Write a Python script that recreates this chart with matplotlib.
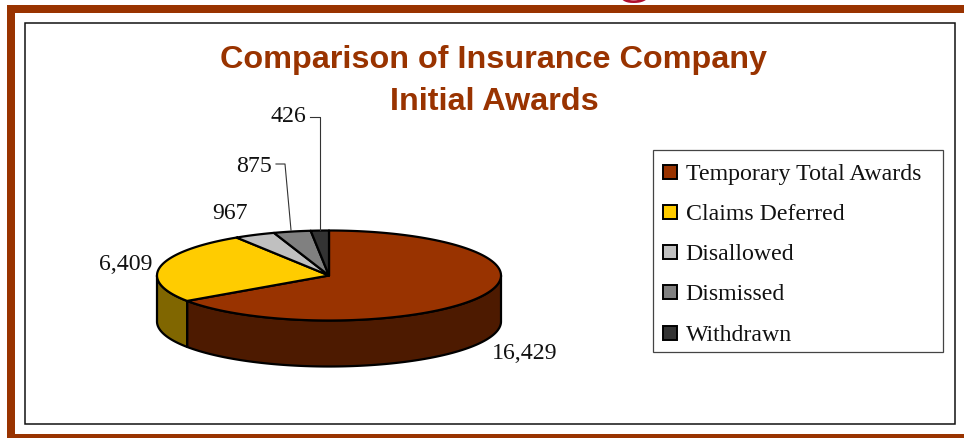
import numpy as np
import matplotlib
matplotlib.use("Agg")
import matplotlib.pyplot as plt
from matplotlib.patches import Rectangle

categories = ["Temporary Total Awards", "Claims Deferred", "Disallowed", "Dismissed", "Withdrawn"]
values = [16429, 6409, 967, 875, 426]
value_labels = ["16,429", "6,409", "967", "875", "426"]
top_colors = ["#993300", "#FFCC00", "#C0C0C0", "#808080", "#333333"]
side_colors = ["#4D1A00", "#806600", "#606060", "#404040", "#1A1A1A"]
title_lines = ["Comparison of Insurance Company", "Initial Awards"]

W, H = 964, 439
BROWN = "#993300"
SERIF = "Liberation Serif"
CX, CY, RX, RY, DEPTH = 329, 276.5, 172, 45, 46

fig = plt.figure(figsize=(W / 100, H / 100), dpi=100, facecolor="white")
ax = fig.add_axes([0, 0, 1, 1])
ax.set_xlim(0, W)
ax.set_ylim(H, 0)
ax.axis("off")

# Slide frame
ax.add_patch(Rectangle((7, 6), W - 7, 7.5, fc=BROWN, ec="none", zorder=1))
ax.add_patch(Rectangle((7, 6), 7.5, H - 6, fc=BROWN, ec="none", zorder=1))
ax.add_patch(Rectangle((7, 435.5), W - 7, 4, fc=BROWN, ec="none", zorder=1))
ax.add_patch(Rectangle((24.5, 24), 930.5, 401, fc="white", ec="#111111", lw=1.1, zorder=1))
# Descender of the slide heading cut off by the top of the crop
ax.text(634, -11, "g", family=SERIF, fontsize=48, color="#B0102E",
        ha="center", va="baseline", clip_on=True, zorder=1)


def ellipse(theta_deg, dy=0):
    t = np.radians(theta_deg)
    return CX + RX * np.sin(t), CY - RY * np.cos(t) + dy


# Slices run clockwise from twelve o'clock
fractions = np.array(values, dtype=float) / np.sum(values)
edges = np.concatenate([[0], np.cumsum(fractions) * 360])

for i in range(len(values)):
    lo, hi = max(edges[i], 90), min(edges[i + 1], 270)
    if hi > lo:
        th = np.linspace(lo, hi, 120)
        xs, ys = ellipse(th)
        xb, yb = ellipse(th[::-1], DEPTH)
        ax.fill(np.r_[xs, xb], np.r_[ys, yb], fc=side_colors[i], ec="black",
                lw=1.6, joinstyle="round", zorder=3)

for i in range(len(values)):
    th = np.linspace(edges[i], edges[i + 1], 160)
    xs, ys = ellipse(th)
    ax.fill(np.r_[CX, xs], np.r_[CY, ys], fc=top_colors[i], ec="black",
            lw=1.6, joinstyle="round", zorder=4)

# Data labels and leader lines
label_pos = [(524.5, 354), (126, 265), (230, 214), (254, 167), (288, 117)]
for s, (x, y) in zip(value_labels, label_pos):
    ax.text(x, y, s, family=SERIF, fontsize=17.2, color="#111111", ha="center", va="center", zorder=5)
ax.plot([276, 285, 291], [165, 165, 231], color="#333333", lw=0.8, zorder=5)
ax.plot([310, 320, 320], [118, 118, 231], color="#333333", lw=0.8, zorder=5)

# Title
for line, y in zip(title_lines, (60, 102)):
    ax.text(494, y, line, family="Liberation Sans", fontweight="bold", fontsize=23.3,
            color=BROWN, ha="center", va="center", zorder=5)

# Legend
ax.add_patch(Rectangle((652.5, 151), 290.5, 202, fc="white", ec="#444444", lw=0.9, zorder=5))
for name, color, y in zip(categories, top_colors, (172, 212, 252, 292, 333)):
    ax.add_patch(Rectangle((662.5, y - 6.5), 14, 14, fc=color, ec="black", lw=1.4, zorder=6))
    ax.text(685.5, y + 2.5, name, family=SERIF, fontsize=17.2, color="#111111",
            ha="left", va="center", zorder=6)

fig.savefig("out.png", dpi=100, facecolor="white")
